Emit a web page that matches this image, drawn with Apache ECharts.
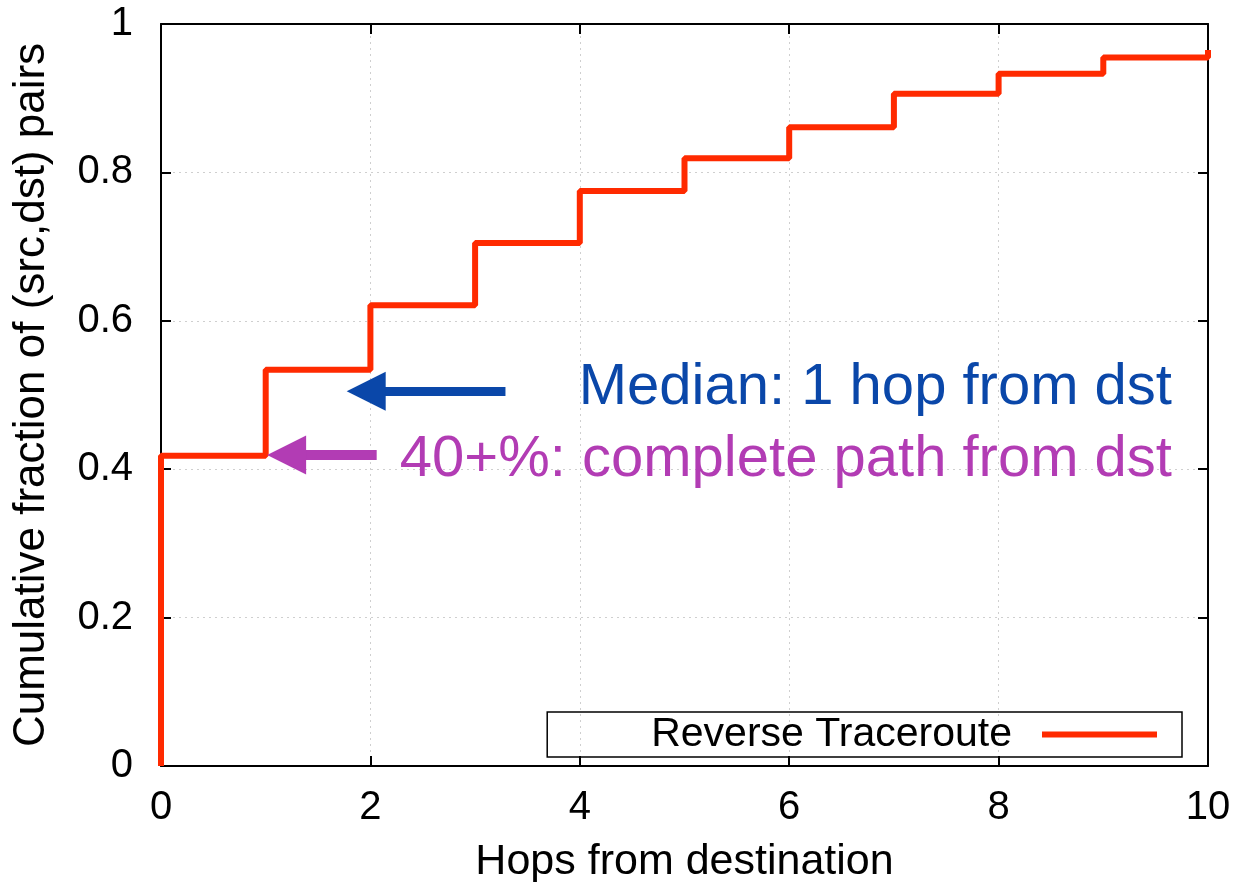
<!DOCTYPE html>
<html>
<head>
<meta charset="utf-8">
<script src="https://cdn.jsdelivr.net/npm/echarts@6/dist/echarts.min.js"></script>
<style>html,body{margin:0;padding:0;background:#fff;}#c{width:1239px;height:882px;}</style>
</head>
<body>
<div id="c"></div>
<script>
// Data
var hops = [0, 0, 1, 2, 3, 4, 5, 6, 7, 8, 9, 10];
var cdf  = [0, 0.418, 0.534, 0.621, 0.705, 0.775, 0.819, 0.861, 0.906, 0.933, 0.955, 0.965];
var xTicks = [0, 2, 4, 6, 8, 10];
var yTicks = [0, 0.2, 0.4, 0.6, 0.8, 1];
var seriesName = 'Reverse Traceroute';
var xTitle = 'Hops from destination';
var yTitle = 'Cumulative fraction of (src,dst) pairs';
var medianNote = 'Median: 1 hop from dst';
var completeNote = '40+%: complete path from dst';
// annotation arrows: [fromX, toX, y]
var medianArrow = [3.29, 1.96, 0.505];
var completeArrow = [2.06, 1.2, 0.419];
var medianLabelAt = [9.656, 0.51];
var completeLabelAt = [9.656, 0.412];

var font = 'Liberation Sans, Arial, Helvetica, sans-serif';
var chart = echarts.init(document.getElementById('c'), null, {renderer: 'canvas'});
var pts = hops.map(function (h, i) { return [h, cdf[i]]; });

var blue = '#0a47a9';
var purple = '#b23cb4';

chart.setOption({
  animation: false,
  backgroundColor: '#fff',
  grid: {left: 161, right: 31, top: 24, bottom: 116, show: false, containLabel: false, outerBoundsMode: 'none'},
  legend: {
    right: 57, top: 712,
    data: [{name: seriesName, icon: 'rect'}],
    align: 'right',
    itemWidth: 115, itemHeight: 6,
    borderColor: '#000', borderWidth: 1.5, borderRadius: 0,
    padding: [2, 25, 2, 104],
    textStyle: {fontFamily: font, fontSize: 41, color: '#000', padding: [0, 25, 0, 0]}
  },
  xAxis: [{
    type: 'value', min: 0, max: 10, interval: 2, position: 'bottom',
    name: xTitle, nameLocation: 'middle', nameGap: 75,
    nameTextStyle: {fontFamily: font, fontSize: 43, color: '#000'},
    axisLine: {show: true, onZero: false, lineStyle: {color: '#000', width: 2}},
    axisTick: {show: true, inside: true, length: 10, lineStyle: {color: '#000', width: 2}},
    axisLabel: {fontFamily: font, fontSize: 40, color: '#000', margin: 22,
      formatter: function (v) { return xTicks.indexOf(v) >= 0 ? String(v) : ''; }},
    splitLine: {show: true, showMinLine: false, showMaxLine: false, lineStyle: {color: '#cfcfcf', type: [2, 4], width: 1}}
  }, {
    type: 'value', min: 0, max: 10, interval: 2, position: 'top',
    axisLine: {show: true, onZero: false, lineStyle: {color: '#000', width: 2}},
    axisTick: {show: true, inside: true, length: 10, lineStyle: {color: '#000', width: 2}},
    axisLabel: {show: false}, splitLine: {show: false}
  }],
  yAxis: [{
    type: 'value', min: 0, max: 1, interval: 0.2, position: 'left',
    name: yTitle, nameLocation: 'middle', nameGap: 107,
    nameTextStyle: {fontFamily: font, fontSize: 44, color: '#000'},
    axisLine: {show: true, onZero: false, lineStyle: {color: '#000', width: 2}},
    axisTick: {show: true, inside: true, length: 10, lineStyle: {color: '#000', width: 2}},
    axisLabel: {fontFamily: font, fontSize: 40, color: '#000', margin: 28,
      formatter: function (v) {
        var r = Math.round(v * 10) / 10;
        return yTicks.some(function (t) { return Math.abs(t - r) < 1e-9; }) ? String(r) : '';
      }},
    splitLine: {show: true, showMinLine: false, showMaxLine: false, lineStyle: {color: '#cfcfcf', type: [2, 4], width: 1}}
  }, {
    type: 'value', min: 0, max: 1, interval: 0.2, position: 'right',
    axisLine: {show: true, onZero: false, lineStyle: {color: '#000', width: 2}},
    axisTick: {show: true, inside: true, length: 10, lineStyle: {color: '#000', width: 2}},
    axisLabel: {show: false}, splitLine: {show: false}
  }],
  series: [{
    name: seriesName,
    type: 'line',
    step: 'end',
    data: pts,
    symbol: 'none',
    color: '#ff2a00',
    lineStyle: {color: '#ff2a00', width: 6},
    itemStyle: {color: '#ff2a00'},
    z: 3,
    markLine: {
      silent: true,
      animation: false,
      label: {show: false},
      symbol: ['none', 'triangle'],
      symbolSize: [39, 39],
      data: [
        [{coord: [medianArrow[0], medianArrow[2]], lineStyle: {color: blue, width: 9, type: 'solid'}},
         {coord: [medianArrow[1], medianArrow[2]]}],
        [{coord: [completeArrow[0], completeArrow[2]], lineStyle: {color: purple, width: 10, type: 'solid'}},
         {coord: [completeArrow[1], completeArrow[2]]}]
      ]
    },
    markPoint: {
      silent: true,
      animation: false,
      symbol: 'circle', symbolSize: 0,
      data: [
        {coord: medianLabelAt, label: {show: true, position: 'left', distance: 0, formatter: medianNote,
          fontFamily: font, fontSize: 58, color: blue}},
        {coord: completeLabelAt, label: {show: true, position: 'left', distance: 0, formatter: completeNote,
          fontFamily: font, fontSize: 58, color: purple}}
      ]
    }
  }]
});
</script>
</body>
</html>
